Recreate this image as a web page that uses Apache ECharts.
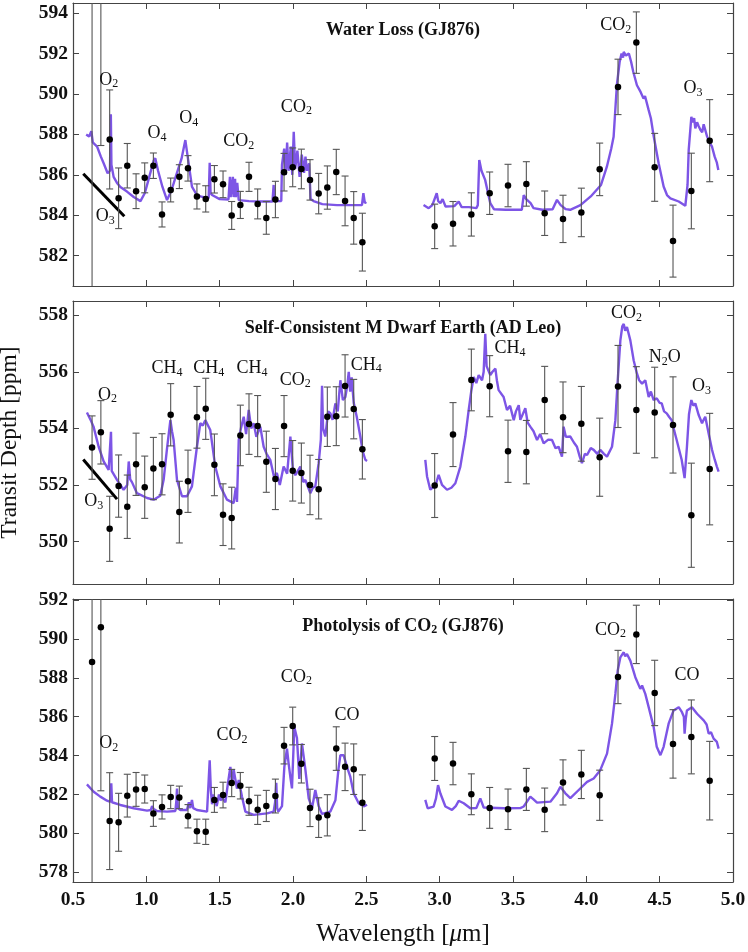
<!DOCTYPE html>
<html><head><meta charset="utf-8">
<script src="https://cdn.jsdelivr.net/npm/echarts@6/dist/echarts.min.js"></script>
<style>html,body{margin:0;padding:0;background:#fff}#c{width:748px;height:952px}</style>
</head><body><div id="c"></div>
<script>
// ---------- DATA ----------
const wavelengths = [0.63,0.69,0.75,0.811,0.870,0.930,0.989,1.048,1.107,1.166,1.225,1.284,1.345,1.405,1.464,1.523,1.582,1.641,1.700,1.759,1.818,1.880,1.939,1.998,2.057,2.116,2.175,2.234,2.295,2.355,2.414,2.473,
  2.966,3.091,3.216,3.341,3.466,3.591,3.716,3.841,3.966,4.091,4.216,4.341,4.466,4.591,4.716,4.841];

const waterLossDepth = [597.0,595.85,587.75,584.84,586.45,585.19,585.85,586.45,584.04,585.25,585.91,586.32,584.93,584.81,585.78,585.53,583.99,584.51,585.9,584.56,583.87,584.78,586.13,586.37,586.29,585.75,585.07,585.37,586.14,584.71,583.87,582.67,
  583.45,583.58,584.04,585.09,585.47,585.55,584.1,583.82,584.14,586.27,590.35,592.54,586.37,582.72,585.2,587.69];
const waterLossErr = [17,8.4,2.45,1.5,1.1,0.86,0.74,0.63,0.62,0.59,0.59,0.63,0.62,0.65,0.68,0.66,0.69,0.67,0.72,0.74,0.81,0.9,0.93,0.96,0.98,1.0,1.0,1.07,1.12,1.23,1.3,1.43,
  1.1,1.1,1.07,1.05,1.05,1.1,1.1,1.17,1.2,1.3,1.37,1.52,1.68,1.78,1.87,2.03];

const adLeoDepth = [553.32,553.86,550.45,551.96,551.23,552.73,551.92,552.58,552.73,554.48,551.04,552.13,554.39,554.69,552.71,550.95,550.83,553.75,554.15,554.08,552.82,552.21,554.08,552.5,552.42,552.0,551.85,554.41,554.43,555.5,554.68,553.26,
  551.98,553.78,555.71,555.49,553.19,553.16,555.0,554.39,554.16,552.98,555.48,554.65,554.56,554.12,550.93,552.56];
const adLeoErr = [1.12,1.12,1.15,1.1,1.12,1.1,1.1,1.1,1.08,1.1,1.09,1.1,1.09,1.08,1.09,1.09,1.09,1.07,1.07,1.08,1.08,1.08,1.08,1.07,1.06,1.05,1.05,1.05,1.04,1.1,1.05,1.05,
  1.13,1.13,1.09,1.08,1.1,1.12,1.19,1.25,1.32,1.38,1.45,1.53,1.6,1.7,1.84,1.97];

const photolysisDepth = [588.81,590.6,580.63,580.57,581.94,582.26,582.28,581.02,581.36,581.87,581.85,580.88,580.11,580.08,581.72,581.97,582.59,582.45,581.65,581.21,581.41,581.92,584.51,585.52,583.58,581.31,580.81,580.93,584.36,583.42,583.3,581.58,
  583.85,583.59,582.01,581.31,581.24,582.26,581.21,582.62,583.03,581.96,588.04,590.23,587.22,584.6,584.96,582.71];
const photolysisErr = [12,8.41,2.49,1.49,1.1,0.87,0.72,0.66,0.62,0.6,0.58,0.6,0.62,0.65,0.64,0.66,0.7,0.68,0.72,0.75,0.8,0.87,0.94,0.97,0.99,0.96,1.02,1.06,1.12,1.22,1.3,1.43,
  1.13,1.09,1.05,1.05,1.04,1.08,1.12,1.16,1.24,1.29,1.37,1.5,1.68,1.76,1.9,2.02];

const waterLossModelA = [[0.59,588.0],[0.61,587.9],[0.625,588.16],[0.635,587.6],[0.664,587.4],[0.69,586.9],[0.709,586.57],[0.736,586.08],[0.752,586.2],[0.758,589.0],[0.762,586.5],[0.777,585.9],[0.80,585.6],[0.823,585.4],[0.868,585.17],[0.914,584.9],[0.96,584.7],[0.99,585.1],[1.02,585.9],[1.05,586.7],[1.061,586.82],[1.08,586.2],[1.11,585.4],[1.141,584.75],[1.17,585.2],[1.2,585.9],[1.24,586.8],[1.266,587.72],[1.28,587.0],[1.311,585.42],[1.34,585.05],[1.368,584.93],[1.425,584.84],[1.432,586.6],[1.438,585.1],[1.448,585.0],[1.5,584.8],[1.56,584.78],[1.57,585.9],[1.575,584.9],[1.59,585.9],[1.595,584.9],[1.605,585.8],[1.61,584.9],[1.62,585.6],[1.63,584.75],[1.7,584.7],[1.8,584.68],[1.86,584.68],[1.868,585.5],[1.872,584.7],[1.92,584.7],[1.925,586.5],[1.94,587.3],[1.95,586.0],[1.96,587.6],[1.97,586.2],[1.985,587.4],[1.995,586.0],[2.005,588.13],[2.015,586.3],[2.03,587.2],[2.045,585.9],[2.06,587.0],[2.075,586.1],[2.085,586.9],[2.095,586.2],[2.11,586.57],[2.12,584.8],[2.14,584.7],[2.2,584.55],[2.3,584.5],[2.4,584.5],[2.47,584.5],[2.48,585.09],[2.49,584.6],[2.5,584.65]];
const waterLossModelB = [[2.89,584.51],[2.925,584.35],[2.95,584.5],[2.98,585.09],[2.99,584.7],[3.005,584.6],[3.02,584.8],[3.04,584.43],[3.1,584.45],[3.13,584.68],[3.15,584.4],[3.2,584.4],[3.25,584.35],[3.26,584.5],[3.27,586.73],[3.285,586.2],[3.31,585.75],[3.345,584.6],[3.37,584.3],[3.45,584.27],[3.56,584.27],[3.573,585.0],[3.59,584.8],[3.62,584.6],[3.64,584.35],[3.7,584.27],[3.77,584.3],[3.8,584.76],[3.825,584.5],[3.86,584.3],[3.89,584.27],[3.96,584.5],[4.03,584.93],[4.1,585.5],[4.14,586.4],[4.17,587.3],[4.186,587.88],[4.2,589.5],[4.209,590.5],[4.227,591.58],[4.24,592.0],[4.25,591.8],[4.255,592.08],[4.27,591.9],[4.29,592.0],[4.305,591.6],[4.32,591.1],[4.345,590.43],[4.37,590.1],[4.39,589.77],[4.4,589.9],[4.425,589.2],[4.44,588.8],[4.46,587.88],[4.493,586.57],[4.527,585.42],[4.55,585.0],[4.573,584.84],[4.63,584.68],[4.675,584.47],[4.69,585.5],[4.698,587.23],[4.716,588.87],[4.725,588.6],[4.735,588.8],[4.743,588.3],[4.755,588.6],[4.766,588.4],[4.78,588.2],[4.79,588.1],[4.8,588.5],[4.811,588.54],[4.823,587.9],[4.84,587.6],[4.857,587.39],[4.875,586.9],[4.89,586.6],[4.9,586.24]];

const adLeoModelA = [[0.595,554.56],[0.62,554.3],[0.64,554.06],[0.675,553.35],[0.709,552.83],[0.743,552.53],[0.755,552.6],[0.759,553.88],[0.764,552.5],[0.8,552.18],[0.845,551.83],[0.87,552.0],[0.88,552.83],[0.89,552.2],[0.902,552.1],[0.936,551.71],[1.005,551.54],[1.05,551.48],[1.095,551.62],[1.118,552.18],[1.14,553.24],[1.164,554.29],[1.175,553.9],[1.186,553.59],[1.209,552.18],[1.243,551.6],[1.277,551.6],[1.311,551.95],[1.345,553.35],[1.368,554.18],[1.385,554.1],[1.402,554.29],[1.436,553.94],[1.47,552.65],[1.505,551.95],[1.55,551.48],[1.595,551.36],[1.61,551.9],[1.618,551.4],[1.63,553.59],[1.645,554.0],[1.664,554.41],[1.68,553.8],[1.698,554.65],[1.715,554.0],[1.732,554.18],[1.75,553.7],[1.777,554.06],[1.8,553.35],[1.82,553.1],[1.845,552.89],[1.87,552.3],[1.89,552.42],[1.91,552.0],[1.936,552.65],[1.96,552.4],[1.982,553.71],[2.0,552.5],[2.016,552.35],[2.05,552.65],[2.07,552.1],[2.084,552.18],[2.118,551.71],[2.135,551.9],[2.152,551.95],[2.175,552.77],[2.19,553.6],[2.198,555.5],[2.205,554.0],[2.22,553.71],[2.24,554.6],[2.255,554.53],[2.27,554.3],[2.289,554.88],[2.305,554.6],[2.323,555.7],[2.34,555.0],[2.357,555.11],[2.37,555.5],[2.38,556.0],[2.39,555.3],[2.4,555.8],[2.414,554.9],[2.435,554.4],[2.459,553.71],[2.475,553.2],[2.493,552.89],[2.505,552.85]];
const adLeoModelB = [[2.902,552.89],[2.914,552.3],[2.936,551.83],[2.95,551.9],[2.97,551.95],[2.993,552.36],[3.016,552.0],[3.05,551.83],[3.08,551.9],[3.107,552.06],[3.141,552.65],[3.175,553.71],[3.198,554.65],[3.215,555.3],[3.232,555.82],[3.25,555.6],[3.266,555.88],[3.289,555.7],[3.3,556.0],[3.311,557.34],[3.32,556.2],[3.345,555.88],[3.36,556.0],[3.38,556.11],[3.39,555.7],[3.402,555.35],[3.436,555.11],[3.459,554.65],[3.48,554.8],[3.505,554.29],[3.52,554.6],[3.539,554.82],[3.55,554.3],[3.561,554.29],[3.584,554.71],[3.6,554.2],[3.618,554.06],[3.64,553.9],[3.664,553.59],[3.685,553.8],[3.709,553.47],[3.74,553.6],[3.766,553.59],[3.79,553.3],[3.811,553.35],[3.834,553.0],[3.845,554.06],[3.86,553.7],[3.891,553.71],[3.915,553.5],[3.936,553.35],[3.955,553.0],[3.97,552.77],[3.99,553.1],[4.005,553.06],[4.03,553.3],[4.05,553.24],[4.075,553.1],[4.095,553.24],[4.12,553.1],[4.141,553.0],[4.175,553.35],[4.198,554.29],[4.214,555.7],[4.232,557.11],[4.245,557.6],[4.255,557.69],[4.265,557.45],[4.277,557.58],[4.3,557.11],[4.323,556.4],[4.345,555.94],[4.36,555.7],[4.38,555.58],[4.402,555.7],[4.425,555.11],[4.44,555.3],[4.459,555.0],[4.48,555.06],[4.5,554.9],[4.514,554.88],[4.53,554.6],[4.548,554.53],[4.565,554.4],[4.582,554.29],[4.6,553.9],[4.616,553.59],[4.65,552.89],[4.67,552.24],[4.686,553.35],[4.7,554.5],[4.716,555.0],[4.73,554.8],[4.743,554.88],[4.766,554.47],[4.789,554.18],[4.8,554.3],[4.811,554.41],[4.834,553.82],[4.857,553.24],[4.875,552.9],[4.89,552.65],[4.902,552.47]];

const photolysisModelA = [[0.595,582.52],[0.641,582.14],[0.686,581.89],[0.732,581.68],[0.755,581.62],[0.761,582.57],[0.766,581.6],[0.823,581.46],[0.914,581.29],[1.005,581.17],[1.03,581.2],[1.039,581.4],[1.05,581.25],[1.073,581.15],[1.141,581.12],[1.198,581.15],[1.205,581.7],[1.209,582.31],[1.215,581.3],[1.232,581.2],[1.277,581.2],[1.29,581.6],[1.3,581.3],[1.311,581.72],[1.32,581.3],[1.345,581.2],[1.414,581.12],[1.427,581.2],[1.432,583.76],[1.44,582.2],[1.448,581.5],[1.458,582.0],[1.47,581.9],[1.48,581.4],[1.495,582.0],[1.505,581.7],[1.52,581.8],[1.539,581.6],[1.555,582.5],[1.573,583.42],[1.585,582.5],[1.595,583.3],[1.607,583.2],[1.618,582.3],[1.63,582.74],[1.652,581.9],[1.675,581.12],[1.732,580.95],[1.823,581.03],[1.868,581.12],[1.878,581.6],[1.886,582.6],[1.892,581.3],[1.9,581.12],[1.925,581.4],[1.941,583.42],[1.959,584.36],[1.97,583.6],[1.982,582.9],[1.993,582.31],[2.009,585.47],[2.027,584.9],[2.043,582.8],[2.061,584.62],[2.084,583.3],[2.107,581.8],[2.13,581.3],[2.152,582.23],[2.175,581.4],[2.198,581.0],[2.255,581.12],[2.289,581.7],[2.31,583.3],[2.323,584.02],[2.345,584.02],[2.368,583.42],[2.391,582.9],[2.414,582.05],[2.448,581.55],[2.482,581.39],[2.505,581.47]];
const photolysisModelB = [[2.902,581.72],[2.918,581.29],[2.959,581.38],[2.975,581.8],[2.989,582.48],[3.005,582.05],[3.039,581.38],[3.084,581.21],[3.11,581.4],[3.13,581.68],[3.164,581.55],[3.209,581.29],[3.25,581.3],[3.277,581.8],[3.3,581.33],[3.436,581.29],[3.55,581.3],[3.573,581.38],[3.618,581.89],[3.64,581.75],[3.664,581.58],[3.755,581.63],[3.8,582.06],[3.823,582.4],[3.857,582.06],[3.891,581.81],[3.948,582.23],[4.005,582.65],[4.05,582.82],[4.095,583.25],[4.141,584.1],[4.175,585.64],[4.198,587.17],[4.214,588.37],[4.232,589.05],[4.245,589.2],[4.255,589.31],[4.265,589.1],[4.277,589.22],[4.3,588.88],[4.334,588.03],[4.368,587.43],[4.38,587.6],[4.402,587.17],[4.425,586.49],[4.459,585.47],[4.48,584.45],[4.505,584.02],[4.527,584.45],[4.561,585.64],[4.595,586.32],[4.63,586.49],[4.652,586.23],[4.665,586.0],[4.67,585.13],[4.678,585.9],[4.686,586.32],[4.72,586.49],[4.755,586.15],[4.8,585.81],[4.82,585.6],[4.834,585.13],[4.85,585.2],[4.868,584.87],[4.89,584.7],[4.902,584.36]];

const waterLossO3Line = [[0.57,586.05],[0.85,583.95]];
const adLeoO3Line = [[0.57,552.9],[0.80,551.5]];

const waterLossLabels = [[0.743,590.68,'O{s|2}'],[0.72,583.94,'O{s|3}'],[1.073,588.05,'O{s|4}'],[1.289,588.79,'O{s|4}'],[1.63,587.64,'CO{s|2}'],[2.023,589.36,'CO{s|2}'],[4.201,593.39,'CO{s|2}'],[4.728,590.27,'O{s|3}']];
const adLeoLabels = [[0.736,555.17,'O{s|2}'],[0.641,551.42,'O{s|3}'],[1.141,556.11,'CH{s|4}'],[1.425,556.11,'CH{s|4}'],[1.72,556.11,'CH{s|4}'],[2.016,555.7,'CO{s|2}'],[2.5,556.23,'CH{s|4}'],[3.48,556.82,'CH{s|4}'],[4.274,558.05,'CO{s|2}'],[4.535,556.5,'N{s|2}O'],[4.786,555.47,'O{s|3}']];
const photolysisLabels = [[0.743,584.62,'O{s|2}'],[1.584,585.04,'CO{s|2}'],[2.023,588.03,'CO{s|2}'],[2.368,586.07,'CO'],[4.164,590.45,'CO{s|2}'],[4.686,588.11,'CO']];

const panelTitles = ['Water Loss (GJ876)','Self-Consistent M Dwarf Earth (AD Leo)','Photolysis of CO{s|2} (GJ876)'];
const yRanges = [[580.5,594.5],[548.5,558.5],[577.5,592.05]];
const yTicks = [[582,584,586,588,590,592,594],[550,552,554,556,558],[578,580,582,584,586,588,590,592]];
const xTicks = [0.5,1.0,1.5,2.0,2.5,3.0,3.5,4.0,4.5,5.0];

// ---------- CHART ----------
const FONT = 'Liberation Serif';
const PURPLE = '#7d55e6';
const AX = '#444';
const chart = echarts.init(document.getElementById('c'), null, {renderer:'canvas'});

const panels = [
  {depth: waterLossDepth, err: waterLossErr, modelA: waterLossModelA, modelB: waterLossModelB, o3: waterLossO3Line, labels: waterLossLabels},
  {depth: adLeoDepth, err: adLeoErr, modelA: adLeoModelA, modelB: adLeoModelB, o3: adLeoO3Line, labels: adLeoLabels},
  {depth: photolysisDepth, err: photolysisErr, modelA: photolysisModelA, modelB: photolysisModelB, o3: null, labels: photolysisLabels}
];
const gridTops = [3, 301, 599];

const grid = [], xAxis = [], yAxis = [], series = [], title = [];
const axisLine = {show:true, onZero:false, lineStyle:{color:AX, width:1.2}};
const subRich = {s:{fontSize:12, lineHeight:10, verticalAlign:'bottom', fontFamily:FONT, color:'#111', textBorderWidth:0}};

panels.forEach((p, i) => {
  grid.push({left:73, top:gridTops[i], width:660, height:283, containLabel:false, outerBoundsMode:'none'});
  const xb = {gridIndex:i, type:'value', min:xTicks[0], max:xTicks[xTicks.length-1], interval:0.5, position:'bottom',
    axisLine, axisTick:{inside:true, length:6, lineStyle:{color:AX}},
    axisLabel:{show:i===2, fontFamily:FONT, fontWeight:'bold', fontSize:19.5, color:'#111', margin:8, formatter:v=>v.toFixed(1)},
    splitLine:{show:false}};
  if (i === 2) {
    xb.name = 'Wavelength [{i|\u03bc}m]';
    xb.nameLocation = 'middle';
    xb.nameGap = 40;
    xb.nameTextStyle = {fontFamily:FONT, fontSize:25, color:'#111', rich:{i:{fontFamily:FONT, fontSize:25, fontStyle:'italic', color:'#111'}}};
  }
  xAxis.push(xb);
  xAxis.push({gridIndex:i, type:'value', min:xTicks[0], max:xTicks[xTicks.length-1], interval:0.5, position:'top',
    axisLine, axisTick:{inside:true, length:6, lineStyle:{color:AX}}, axisLabel:{show:false}, splitLine:{show:false}});
  const yl = {gridIndex:i, type:'value', min:yRanges[i][0], max:yRanges[i][1], position:'left', scale:true,
    axisLine, axisTick:{inside:true, length:6, lineStyle:{color:AX}, customValues:yTicks[i]},
    axisLabel:{customValues:yTicks[i], fontFamily:FONT, fontWeight:'bold', fontSize:19.5, color:'#111', margin:5},
    splitLine:{show:false}};
  if (i === 1) {
    yl.name = 'Transit Depth [ppm]';
    yl.nameLocation = 'middle';
    yl.nameGap = 51;
    yl.nameTextStyle = {fontFamily:FONT, fontSize:23.5, color:'#111'};
  }
  yAxis.push(yl);
  yAxis.push({gridIndex:i, type:'value', min:yRanges[i][0], max:yRanges[i][1], position:'right', scale:true,
    axisLine, axisTick:{inside:true, length:6, lineStyle:{color:AX}, customValues:yTicks[i]},
    axisLabel:{show:false}, splitLine:{show:false}});

  const xi = i*2, yi = i*2;
  const lineStyle = {color:PURPLE, width:2.4};
  series.push({type:'line', xAxisIndex:xi, yAxisIndex:yi, data:p.modelA, showSymbol:false, symbol:'none', lineStyle, silent:true, z:2});
  series.push({type:'line', xAxisIndex:xi, yAxisIndex:yi, data:p.modelB, showSymbol:false, symbol:'none', lineStyle, silent:true, z:2});
  if (p.o3) series.push({type:'line', xAxisIndex:xi, yAxisIndex:yi, data:p.o3, showSymbol:false, symbol:'none', lineStyle:{color:'#000', width:3}, silent:true, z:3});

  const ebData = wavelengths.map((w, k) => [w, p.depth[k], p.err[k]]);
  series.push({type:'custom', xAxisIndex:xi, yAxisIndex:yi, data:ebData, clip:true, silent:true, z:4,
    encode:{x:0, y:1},
    renderItem:(params, api) => {
      const x = api.value(0), y = api.value(1), e = api.value(2);
      const a = api.coord([x, y+e]), b = api.coord([x, y-e]);
      const w = 3.5, st = {stroke:'#555', lineWidth:1.1};
      return {type:'group', children:[
        {type:'line', shape:{x1:a[0], y1:a[1], x2:b[0], y2:b[1]}, style:st},
        {type:'line', shape:{x1:a[0]-w, y1:a[1], x2:a[0]+w, y2:a[1]}, style:st},
        {type:'line', shape:{x1:b[0]-w, y1:b[1], x2:b[0]+w, y2:b[1]}, style:st}
      ]};
    }});
  series.push({type:'scatter', xAxisIndex:xi, yAxisIndex:yi, data:wavelengths.map((w,k)=>[w,p.depth[k]]), symbolSize:6.5, clip:true,
    itemStyle:{color:'#000', opacity:1}, silent:true, z:5});
  series.push({type:'scatter', xAxisIndex:xi, yAxisIndex:yi, symbolSize:0, silent:true, z:6, clip:false,
    itemStyle:{color:'#111', opacity:1},
    data:p.labels.map(l => ({value:[l[0], l[1]], name:l[2]})),
    label:{show:true, position:'inside', formatter:q => q.name, fontFamily:FONT, fontSize:18, color:'#111',
      textBorderWidth:0, textBorderColor:'transparent', opacity:1, lineHeight:20, rich:subRich}});

  title.push({text:panelTitles[i], left:403, textAlign:'center', top:gridTops[i] + 17, padding:0,
    textStyle:{fontFamily:FONT, fontSize:18, fontWeight:'bold', color:'#111', lineHeight:20,
      rich:{s:{fontSize:12, fontWeight:'bold', lineHeight:10, verticalAlign:'bottom', fontFamily:FONT, color:'#111'}}}});
});

chart.setOption({animation:false, backgroundColor:'#fff', title, grid, xAxis, yAxis, series});
</script>
</body></html>
